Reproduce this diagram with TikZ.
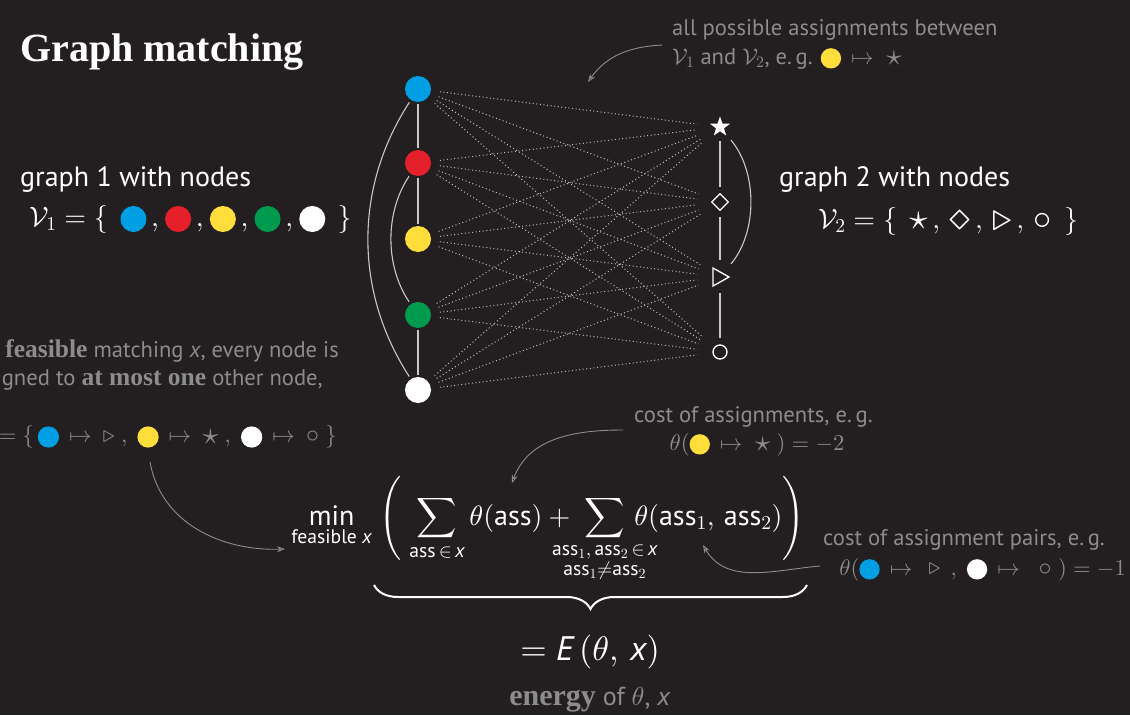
\documentclass[tikz,border=0pt]{standalone}
\usepackage{amsmath,amssymb,mathtools,graphicx}
\usepackage{fontspec}
\DeclareFontShape{OML}{cmm}{m}{it}{<->cmmi10}{}
\DeclareFontShape{OMS}{cmsy}{m}{n}{<->cmsy10}{}
\DeclareFontShape{OMX}{cmex}{m}{n}{<->cmex10}{}
\DeclareFontShape{OT1}{cmr}{m}{n}{<->cmr10}{}
\setmainfont{PT Sans}
\newfontfamily\serifbf{Liberation Serif}
\usetikzlibrary{arrows.meta,shapes.geometric,decorations.pathreplacing,calc}
\definecolor{bg}{HTML}{231F20}
\definecolor{anno}{HTML}{8C8C8C}
\definecolor{cblue}{HTML}{009FE3}
\definecolor{cred}{HTML}{E5202A}
\definecolor{cyellow}{HTML}{FFDD3A}
\definecolor{cgreen}{HTML}{009A4E}
\definecolor{edgecol}{HTML}{C8C8C8}
\definecolor{dotcol}{HTML}{BDBDBD}
\newcommand\colordot[2][0.465em]{\tikz[x=1cm,y=1cm,baseline=-0.25em]\fill[#2] (0,0) circle (#1);}
\newcommand\sbf[1]{{\serifbf\bfseries\fontsize{25.5}{28}\selectfont #1}}
\newcommand\ix{\text{\itshape x}}
\newcommand\Sstar[1][1.3]{\vcenter{\hbox{\scalebox{#1}{$\star$}}}}
\newcommand\Sdia[1][1.5]{\vcenter{\hbox{\scalebox{#1}{$\diamond$}}}}
\newcommand\Stri[1][1.4]{\vcenter{\hbox{\scalebox{#1}{$\triangleright$}}}}
\newcommand\Scirc[1][1.3]{\vcenter{\hbox{\scalebox{#1}{$\circ$}}}}
\newcommand\mt{\,\mapsto\:}
\begin{document}
\begin{tikzpicture}[x=1pt,y=-1pt,
  every node/.style={text=white, inner sep=0pt},
  bodytext/.style={font=\fontsize{28}{34}\selectfont},
  annotext/.style={text=anno, font=\fontsize{22.6}{27}\selectfont},
  gnode/.style={circle, minimum size=26, inner sep=0, draw=none},
  snode/.style={circle, minimum size=0, inner sep=0},
  gedge/.style={draw=edgecol, line width=1.1pt},
  dotline/.style={draw=dotcol, line width=1pt, dash pattern=on 1pt off 2.6pt, shorten <=22, shorten >=23},
  annoarrow/.style={draw=anno, line width=0.9pt, -{Stealth[length=8pt,width=6pt]}}
]
\fill[bg] (0,0) rectangle (1130,715);
\useasboundingbox (0,0) rectangle (1130,715);

% title
\node[anchor=base west, font=\serifbf\bfseries\fontsize{40}{48}\selectfont] (title) at (20,61) {Graph matching};

% graph 1 text
\node[bodytext, anchor=base west] (g1) at (20,186) {graph 1 with nodes};
\node[bodytext, anchor=west] (v1set) at (29,219) {$\mathcal{V}_1 = \{\;\,\colordot{cblue}\,,\mkern1mu\colordot{cred}\,,\mkern1mu\colordot{cyellow}\,,\mkern1mu\colordot{cgreen}\,,\mkern1mu\colordot{white}\;\,\}$};

% graph 2 text
\node[bodytext, anchor=base west] (g2) at (779,186) {graph 2 with nodes};
\node[bodytext, anchor=west] (v2set) at (818,221) {$\mathcal{V}_2 = \{\;\,\Sstar\,,\,\Sdia\,,\,\Stri\,,\,\Scirc\;\,\}$};

% left graph nodes
\node[gnode, fill=cblue] (b1) at (418,89) {};
\node[gnode, fill=cred] (b2) at (418,163) {};
\node[gnode, fill=cyellow] (b3) at (418,239) {};
\node[gnode, fill=cgreen] (b4) at (418,315) {};
\node[gnode, fill=white] (b5) at (418,390) {};

% right graph nodes
\node[snode] (s1) at (720,127) {};
\node[snode] (s2) at (720,202) {};
\node[snode] (s3) at (720,277) {};
\node[snode] (s4) at (720,352) {};
\node[star, star points=5, star point ratio=2.5, fill=white, minimum size=21, inner sep=0] (st) at (s1) {};
\node[diamond, draw=white, line width=1.3pt, minimum width=17, minimum height=17, inner sep=0] (di) at (s2) {};
\draw[white, line width=1.3pt, line join=miter] ($(s3)+(-7,-9)$) -- ($(s3)+(9,0)$) -- ($(s3)+(-7,9)$) -- cycle;
\node[circle, draw=white, line width=1.3pt, minimum size=14, inner sep=0] (ci) at (s4) {};

% dotted assignments
\foreach \i in {1,...,5}{
  \foreach \j in {1,...,4}{
    \draw[dotline] (b\i.center) -- (s\j.center);
  }
}

% left edges
\draw[gedge, shorten <=15, shorten >=15] (b1.center) -- (b2.center);
\draw[gedge, shorten <=15, shorten >=15] (b2.center) -- (b3.center);
\draw[gedge, shorten <=15, shorten >=15] (b4.center) -- (b5.center);
\draw[gedge, shorten <=16, shorten >=16] (b1.center) to[bend right=33] (b5.center);
\draw[gedge, shorten <=16, shorten >=16] (b2.center) to[bend right=34] (b4.center);

% right edges
\draw[gedge, shorten <=14, shorten >=15] (s1.center) -- (s2.center);
\draw[gedge, shorten <=15, shorten >=17] (s2.center) -- (s3.center);
\draw[gedge, shorten <=16, shorten >=14] (s3.center) -- (s4.center);
\draw[gedge, shorten <=17, shorten >=17] (s1.center) to[bend left=40] (s3.center);

% annotation: all possible assignments
\node[annotext, anchor=base west] (a1) at (672,35) {all possible assignments between};
\node[annotext, anchor=base west] (a2) at (672,64) {$\mathcal{V}_1$ and $\mathcal{V}_2$, e.\,g. $\colordot[0.45em]{cyellow}\,\mapsto\;\Sstar[1.35]$};
\coordinate (a1s) at (662,45);
\coordinate (a1e) at (588,82);
\draw[annoarrow] (a1s) to[out=183, in=55] (a1e);

% annotation: feasible matching
\node[annotext, anchor=base east] (p1) at (339,357) {A \sbf{feasible} matching \textit{x}, every node is};
\node[annotext, anchor=base east] (p2) at (323,385) {assigned to \sbf{at most one} other node,};
\node[annotext, anchor=east] (p3) at (337,437) {\textit{x} $=\{\,\colordot[0.47em]{cblue}\mt\Stri[1.05]\;,\;\colordot[0.47em]{cyellow}\mt\Sstar[1.4]\;,\;\colordot[0.47em]{white}\mt\Scirc[1.15]\;\}$};
\coordinate (p3s) at (150,462);
\coordinate (p3e) at (285,549);
\draw[annoarrow] (p3s) to[out=-80, in=182] (p3e);

% annotation: cost of assignments
\node[annotext, anchor=base west] (c1) at (634,422) {cost of assignments, e.\,g.};
\node[annotext, anchor=base] (c2) at (757,450) {$\theta(\colordot[0.45em]{cyellow}\,\mapsto\;\Sstar[1.35]\;) = -2$};
\coordinate (c1s) at (623,430);
\coordinate (c1e) at (512,483);
\draw[annoarrow] (c1s) to[out=180, in=70] (c1e);

% annotation: cost of assignment pairs
\node[annotext, anchor=base west] (d1) at (823,545) {cost of assignment pairs, e.\,g.};
\node[annotext, anchor=base east] (d2) at (1126,575) {$\theta(\colordot[0.45em]{cblue}\,\mapsto\;\,\Stri[1.05]\;\,,\;\colordot[0.45em]{white}\,\mapsto\;\;\Scirc[1.15]\;) = -1$};
\coordinate (d1s) at (820,566);
\coordinate (d1e) at (703,545);
\draw[annoarrow] (d1s) to[out=185, in=-60] (d1e);

% formula
\node[anchor=base east, font=\fontsize{28}{33}\selectfont] (formula) at (805,525)
 {$\displaystyle \min_{\text{feasible }\ix}\;\Biggl(\;\sum_{\text{ass}\,\in\,\ix}\theta(\text{ass}) + \;\sum_{\mathclap{\substack{\text{ass}_1,\,\text{ass}_2\,\in\,\ix\\ \text{ass}_1\neq\text{ass}_2}}}\,\theta(\text{ass}_1,\,\text{ass}_2)\Biggr)$};

% brace
\coordinate (br1) at (374,585);
\coordinate (br2) at (807,585);
\draw[white, line width=2pt, decorate, decoration={brace, mirror, amplitude=24}] (br1) -- (br2);

\node[font=\fontsize{34}{40}\selectfont, anchor=base] (energy) at (590,660) {$= \text{\itshape E}\,(\theta,\, \ix)$};
\node[annotext, anchor=base, font=\fontsize{26}{30}\selectfont] (energylbl) at (590,705) {{\serifbf\bfseries\fontsize{30}{32}\selectfont energy} of $\theta$, \textit{x}};
\end{tikzpicture}
\end{document}
